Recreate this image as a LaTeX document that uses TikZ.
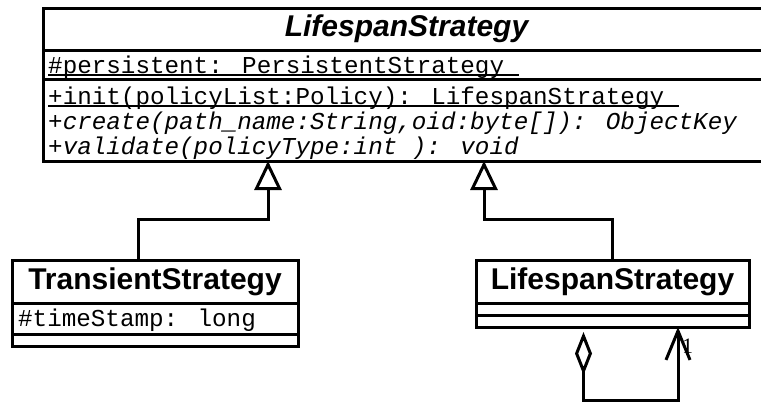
\documentclass[tikz,border=0pt]{standalone}
\usepackage{fontspec}
\usepackage{tikz}
\usetikzlibrary{arrows.meta,positioning}
\newfontfamily\umlsans{Liberation Sans}
\newfontfamily\umlmono{Liberation Mono}
\newfontfamily\umlserif{Liberation Serif}
\newcommand\classfont{\umlsans\bfseries\fontsize{30}{34}\selectfont}
\newcommand\membfont{\umlmono\fontsize{24.25}{25}\selectfont}
\tikzset{
  compart/.style={draw, line width=3pt, inner sep=0pt, outer sep=0pt, anchor=north west},
  member/.style={font=\membfont, anchor=base west, inner sep=0pt},
  underl/.style={line width=1.2pt},
  inherit/.style={line width=3pt, -{Triangle[open, length=29pt, width=27pt]}},
  assoc/.style={line width=3pt, {Diamond[open, length=43pt, width=17pt]}-{Straight Barb[length=29pt, width=24pt]}},
  mult/.style={font=\umlserif\fontsize{22}{22}\selectfont, anchor=base west, inner sep=0pt}
}
\begin{document}
\begin{tikzpicture}[x=1pt,y=-1pt]
\useasboundingbox (0,0) rectangle (761,402);
% abstract class
\node[compart, minimum width=727pt, minimum height=42pt, font=\classfont\itshape] (lifename) at (43,8) {LifespanStrategy};
\node[compart, minimum width=727pt, minimum height=29pt] (lifeattr) at (lifename.south west) {};
\node[compart, minimum width=727pt, minimum height=82pt] (lifeops) at (lifeattr.south west) {};
\node[member] (persist) at (48,73) {\#persistent: PersistentStrategy};
\node[member] (initop) at (48,104) {+init(policyList:Policy): LifespanStrategy};
\node[member, font=\membfont\itshape] (createop) at (48,129) {+create(path\_name:String,oid:byte[]): ObjectKey};
\node[member, font=\membfont\itshape] (validop) at (48,154) {+validate(policyType:int ): void};
\draw[underl] ([yshift=-2pt]persist.base west) -- ([xshift=14.5pt,yshift=-2pt]persist.base east);
\draw[underl] ([yshift=-2pt]initop.base west) -- ([xshift=14.5pt,yshift=-2pt]initop.base east);
% subclasses
\node[compart, minimum width=286pt, minimum height=43pt, font=\classfont] (transname) at (12,260) {TransientStrategy};
\node[compart, minimum width=286pt, minimum height=31pt] (transattr) at (transname.south west) {};
\node[compart, minimum width=286pt, minimum height=12pt] (transops) at (transattr.south west) {};
\node[member] (stamp) at (18,326) {\#timeStamp: long};
\node[compart, minimum width=273pt, minimum height=43pt, font=\classfont] (lsname) at (476,260) {LifespanStrategy};
\node[compart, minimum width=273pt, minimum height=12pt] (lsattr) at (lsname.south west) {};
\node[compart, minimum width=273pt, minimum height=12pt] (lsops) at (lsattr.south west) {};
% connectors
\draw[inherit] ([xshift=-17pt]transname.north) -- ++(0,-41) -| ([xshift=-138.5pt]lifeops.south);
\draw[inherit] (lsname.north) -- ++(0,-41) -| ([xshift=77.5pt]lifeops.south);
\draw[assoc] ([xshift=-29pt,yshift=-5pt]lsops.south) -- ++(0,68) -| ([xshift=65.5pt]lsops.south);
\node[mult] (one) at (682,353) {1};
\end{tikzpicture}
\end{document}
